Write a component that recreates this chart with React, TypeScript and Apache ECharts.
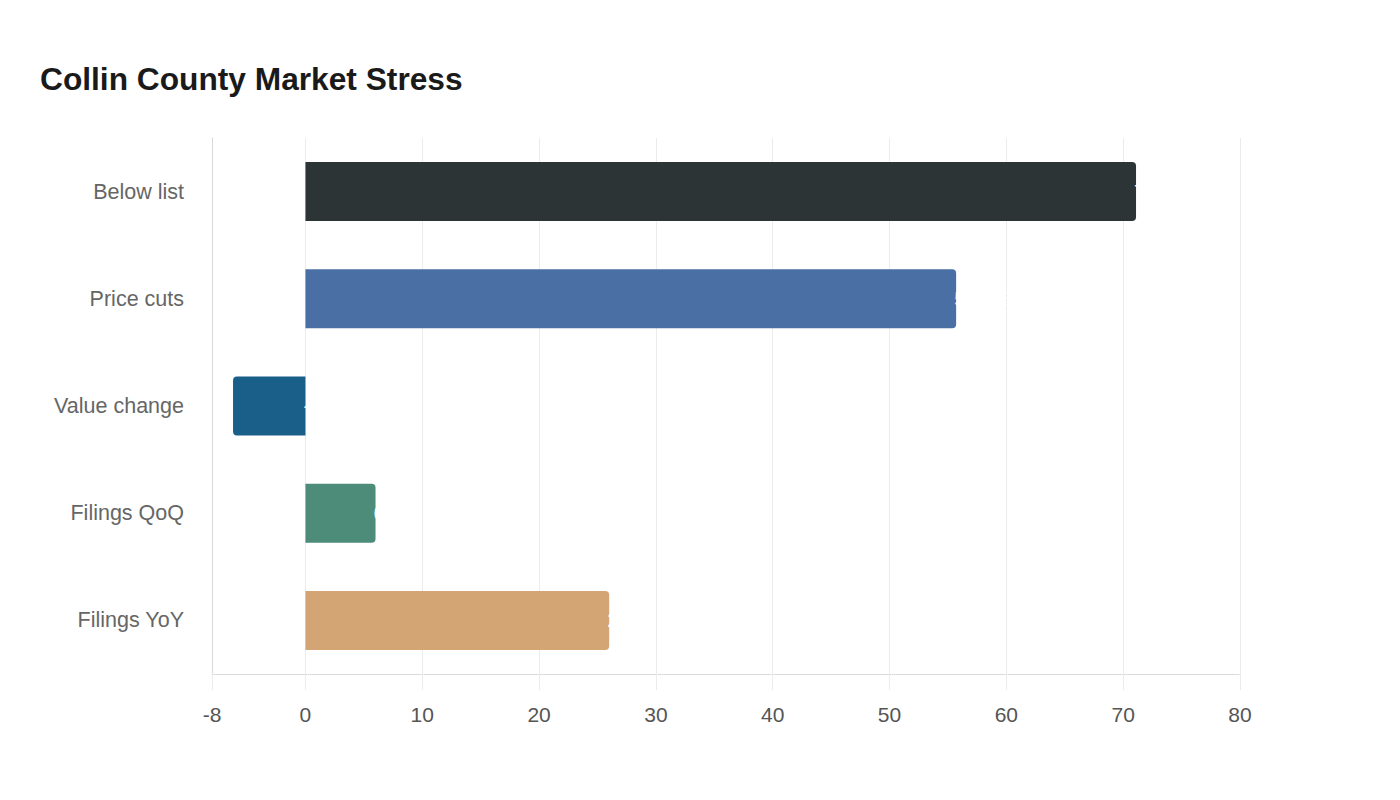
import React, { useEffect, useRef } from "react";
import * as echarts from "echarts";

const categories = ["Below list", "Price cuts", "Value change", "Filings QoQ", "Filings YoY"];
const values = [71.1, 55.7, -6.2, 6.0, 26.0];
const barColors = ["#2d3436", "#4a6fa5", "#1a5f8a", "#4e8c7a", "#d4a574"];
const titleText = "Collin County Market Stress";
const xMin = -8;
const xMax = 80;

const FONT = "'Liberation Sans', Arial, Helvetica, sans-serif";

export default function App() {
  const ref = useRef<HTMLDivElement>(null);
  useEffect(() => {
    if (!ref.current) return;
    const chart = echarts.init(ref.current, undefined, { renderer: "svg" });
    chart.setOption({
      animation: false,
      backgroundColor: "#ffffff",
      textStyle: { fontFamily: FONT },
      title: {
        text: titleText,
        left: 40,
        top: 63,
        padding: 0,
        textStyle: { fontFamily: FONT, fontSize: 31.7, fontWeight: "bold", color: "#1a1a1a" },
      },
      grid: { left: 212, right: 160, top: 138, bottom: 126, containLabel: false },
      xAxis: {
        type: "value",
        min: xMin,
        max: xMax,
        splitNumber: 10,
        axisLine: { show: true, onZero: false, lineStyle: { color: "#d4d4d4", type: "dotted", width: 1 } },
        axisTick: { show: true, length: 16, lineStyle: { color: "#ececec" } },
        axisLabel: { color: "#555555", fontSize: 21, margin: 30, fontFamily: FONT },
        splitLine: { show: true, lineStyle: { color: "#ececec", width: 1 } },
      },
      yAxis: {
        type: "category",
        data: categories,
        inverse: true,
        axisLine: { show: true, onZero: false, lineStyle: { color: "#d4d4d4", type: "dotted", width: 1 } },
        axisTick: { show: false },
        axisLabel: { color: "#666666", fontSize: 21.5, margin: 28, fontFamily: FONT },
        splitLine: { show: false },
      },
      series: [
        {
          type: "bar",
          barWidth: "55%",
          data: values.map((v, i) => ({
            value: v,
            itemStyle: {
              color: barColors[i],
              borderRadius: v >= 0 ? [0, 4, 4, 0] : [4, 0, 0, 4],
            },
          })),
          label: {
            show: true,
            position: "right",
            distance: -2,
            color: "#ffffff",
            fontSize: 20,
            fontFamily: FONT,
            formatter: (p: any) => `${p.value}%`,
          },
        },
      ],
    });
    return () => chart.dispose();
  }, []);
  return (
    <div
      ref={ref}
      style={{ position: "absolute", left: 0, top: 0, width: 1400, height: 800, background: "#fff" }}
    />
  );
}
